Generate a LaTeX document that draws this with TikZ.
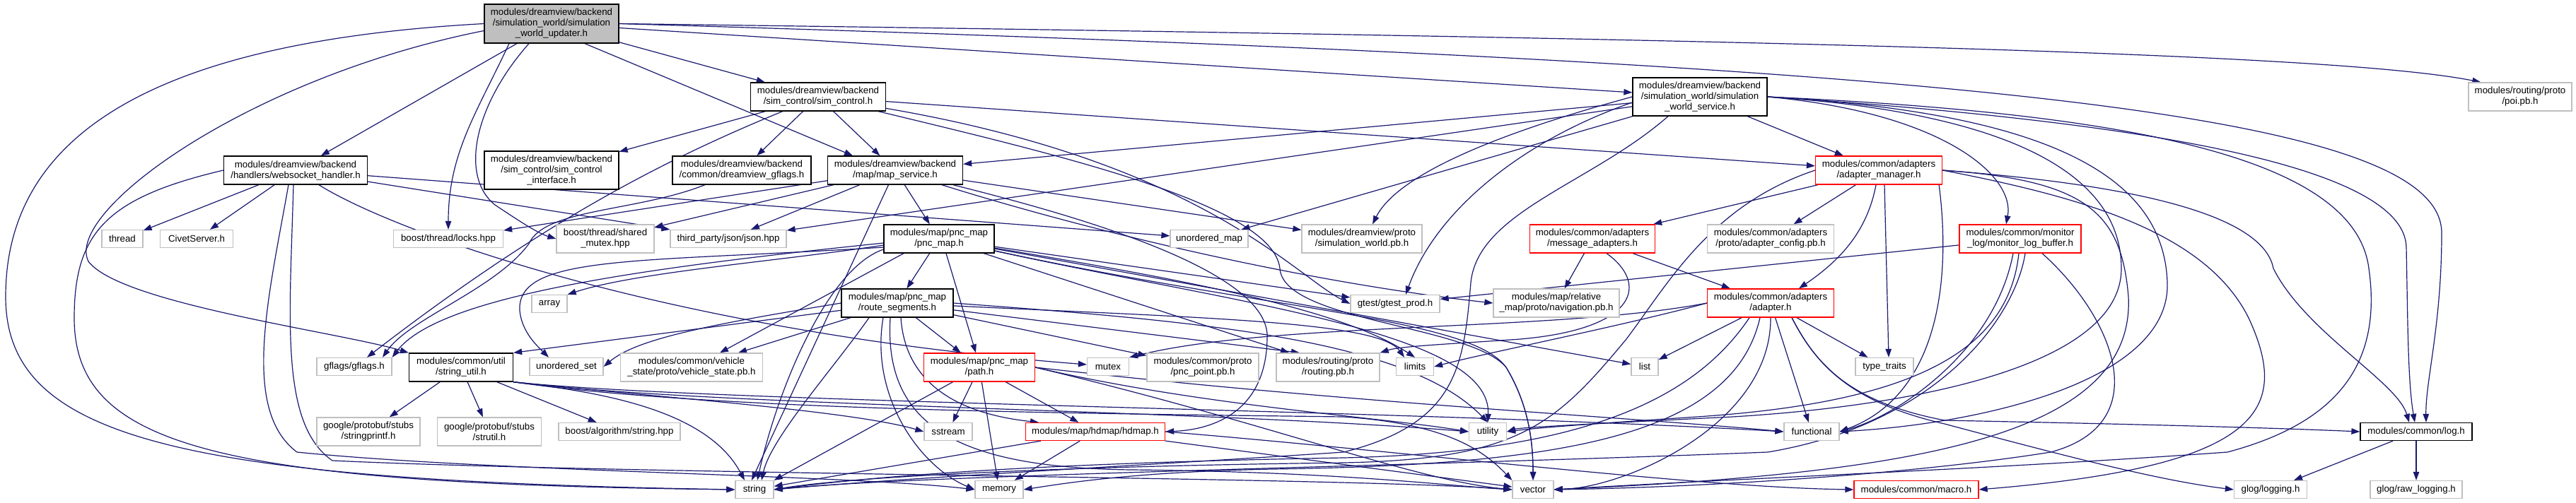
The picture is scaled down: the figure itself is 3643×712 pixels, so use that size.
\documentclass[tikz,border=0pt]{standalone}
\usepackage{fontspec}
\setmainfont{Liberation Sans}
\usetikzlibrary{arrows.meta}
\definecolor{edgec}{HTML}{191970}
\definecolor{gry}{HTML}{BFBFBF}
\definecolor{redb}{HTML}{FF0000}
\newcommand\nfont{\fontsize{13.3}{15}\selectfont}
\newcommand\mknode[7]{\node[#2,minimum width=#5pt,minimum height=#6pt] (#1) at (#3,-#4) {#7};}
\pgfdeclarelayer{bg}
\pgfsetlayers{bg,main}
\tikzset{
 nbase/.style={rectangle, line width=1.3pt, fill=white, inner sep=0pt, align=center, font=\nfont, text=black},
 nb/.style={nbase, draw=black},
 ng/.style={nbase, draw=gry},
 nr/.style={nbase, draw=redb},
 nroot/.style={nbase, draw=black, fill=gry},
 dep/.style={draw=edgec, line width=1.2pt, -{Triangle[length=12pt,width=8.5pt]}},
}
\begin{document}
\begin{tikzpicture}[x=1pt,y=1pt]
\useasboundingbox (0,0) rectangle (3643,-712);
\mknode{root}{nroot}{780}{33.5}{190}{55}{modules/dreamview/backend\\/simulation\_world/simulation\\\_world\_updater.h}
\mknode{ws}{nb}{418}{241}{203}{40}{modules/dreamview/backend\\/handlers/websocket\_handler.h}
\mknode{iface}{nb}{780}{241}{190}{54}{modules/dreamview/backend\\/sim\_control/sim\_control\\\_interface.h}
\mknode{thread}{ng}{173}{338}{58}{25}{thread}
\mknode{civet}{ng}{278}{338}{103}{25}{CivetServer.h}
\mknode{locks}{ng}{634}{338}{155}{25}{boost/thread/locks.hpp}
\mknode{smutex}{ng}{856}{338}{138}{40}{boost/thread/shared\\\_mutex.hpp}
\mknode{simctl}{nb}{1157}{137}{191}{40}{modules/dreamview/backend\\/sim\_control/sim\_control.h}
\mknode{dvgflags}{nb}{1049}{241}{196}{40}{modules/dreamview/backend\\/common/dreamview\_gflags.h}
\mknode{mapsvc}{nb}{1266}{241}{191}{40}{modules/dreamview/backend\\/map/map\_service.h}
\mknode{json}{ng}{1030}{338}{164}{25}{third\_party/json/json.hpp}
\mknode{pncmap}{nb}{1328}{338}{156}{40}{modules/map/pnc\_map\\/pnc\_map.h}
\mknode{umap}{ng}{1710}{338}{110}{25}{unordered\_map}
\mknode{swsvc}{nb}{2404}{137}{190}{54}{modules/dreamview/backend\\/simulation\_world/simulation\\\_world\_service.h}
\mknode{adman}{nr}{2657}{241}{179}{40}{modules/common/adapters\\/adapter\_manager.h}
\mknode{swpb}{ng}{1926}{338}{170}{40}{modules/dreamview/proto\\/simulation\_world.pb.h}
\mknode{msgad}{nr}{2252}{338}{177}{40}{modules/common/adapters\\/message\_adapters.h}
\mknode{adcfg}{ng}{2504}{338}{179}{40}{modules/common/adapters\\/proto/adapter\_config.pb.h}
\mknode{poi}{ng}{3564}{137}{146}{40}{modules/routing/proto\\/poi.pb.h}
\mknode{monitor}{nr}{2857}{338}{172}{40}{modules/common/monitor\\\_log/monitor\_log\_buffer.h}
\mknode{gflags}{ng}{501}{519}{106}{25}{gflags/gflags.h}
\mknode{sutil}{nb}{652}{520}{147}{40}{modules/common/util\\/string\_util.h}
\mknode{uset}{ng}{801}{519}{104}{25}{unordered\_set}
\mknode{array}{ng}{777}{430}{50}{25}{array}
\mknode{vehicle}{ng}{978}{520}{201}{40}{modules/common/vehicle\\\_state/proto/vehicle\_state.pb.h}
\mknode{sprintf}{ng}{521}{611}{146}{40}{google/protobuf/stubs\\/stringprintf.h}
\mknode{strutil}{ng}{692}{611}{147}{40}{google/protobuf/stubs\\/strutil.h}
\mknode{balg}{ng}{876}{611}{172}{25}{boost/algorithm/string.hpp}
\mknode{rseg}{nb}{1269}{429}{158}{40}{modules/map/pnc\_map\\/route\_segments.h}
\mknode{pnpath}{nr}{1385}{520}{157}{40}{modules/map/pnc\_map\\/path.h}
\mknode{mutex}{ng}{1567}{519}{59}{25}{mutex}
\mknode{pncpt}{ng}{1701}{520}{158}{40}{modules/common/proto\\/pnc\_point.pb.h}
\mknode{sstream}{ng}{1341}{611}{68}{25}{sstream}
\mknode{hdmap}{nr}{1549}{611}{197}{25}{modules/map/hdmap/hdmap.h}
\mknode{string}{ng}{1067}{693}{54}{25}{string}
\mknode{memory}{ng}{1413}{693}{68}{25}{memory}
\mknode{gtest}{ng}{1973}{430}{126}{25}{gtest/gtest\_prod.h}
\mknode{nav}{ng}{2201}{429}{178}{40}{modules/map/relative\\\_map/proto/navigation.pb.h}
\mknode{adapter}{nr}{2504}{429}{179}{40}{modules/common/adapters\\/adapter.h}
\mknode{routing}{ng}{1878}{520}{146}{40}{modules/routing/proto\\/routing.pb.h}
\mknode{limits}{ng}{2001}{519}{53}{25}{limits}
\mknode{list}{ng}{2326}{519}{38}{25}{list}
\mknode{ttraits}{ng}{2665}{519}{82}{25}{type\_traits}
\mknode{utility}{ng}{2104}{611}{53}{25}{utility}
\mknode{functional}{ng}{2562}{611}{78}{25}{functional}
\mknode{vector}{ng}{2168}{693}{58}{25}{vector}
\mknode{macro}{nr}{2710}{693}{176}{25}{modules/common/macro.h}
\mknode{log}{nb}{3417}{611}{158}{25}{modules/common/log.h}
\mknode{glogging}{ng}{3211}{693}{103}{25}{glog/logging.h}
\mknode{rawlog}{ng}{3417}{693}{130}{25}{glog/raw\_logging.h}
\begin{pgfonlayer}{bg}
\fill[white] (0,0) rectangle (3643,-712);
% root
\draw[dep] (root) -- (ws);
\draw[dep] (root) -- (simctl);
\draw[dep] ([xshift=47pt]root.south) -- ([xshift=-60pt]mapsvc.north);
\draw[dep] (root) -- (swsvc);
\draw[dep] (root.east) .. controls (2500,-55) and (3300,-75) .. ([xshift=18pt]poi.north west);
\draw[dep] (root.east) .. controls (2800,-90) and (3453,-160) .. (3453,-330) .. controls (3453,-460) and (3430,-540) .. ([xshift=14pt]log.north);
\draw[dep] ([xshift=-60pt]root.south) to[out=-115,in=90] (locks);
\draw[dep] ([xshift=-32pt]root.south) .. controls (670,-150) and (650,-250) .. (700,-290) .. controls (730,-310) and (760,-330) .. (smutex.west);
\draw[dep] (root.west) .. controls (200,-60) and (8,-200) .. (8,-420) .. controls (8,-620) and (250,-680) .. (string.west);
\draw[dep] ([yshift=-10pt]root.west) .. controls (350,-110) and (90,-300) .. (125,-370) .. controls (170,-430) and (480,-470) .. (sutil.north west);
% websocket
\draw[dep] (ws) -- (thread);
\draw[dep] (ws) -- (civet);
\draw[dep] (ws) -- (json);
\draw[dep] (ws) -- (umap);
\draw[dep] (ws) .. controls (560,-330) and (950,-470) .. ([yshift=3pt]mutex.west);
\draw[dep] (ws.west) .. controls (150,-280) and (105,-330) .. (105,-450) .. controls (105,-630) and (300,-685) .. (string.west);
\draw[dep] ([xshift=-10pt]ws.south) .. controls (380,-420) and (340,-580) .. (420,-640) .. controls (700,-668) and (1200,-672) .. (memory.west);
\draw[dep] ([xshift=-3pt]ws.south) .. controls (410,-450) and (395,-600) .. (470,-652) .. controls (900,-672) and (1900,-675) .. (vector.west);
% sim_control
\draw[dep] (simctl) -- (iface);
\draw[dep] (simctl) -- (dvgflags);
\draw[dep] (simctl) -- (mapsvc);
\draw[dep] (simctl) -- (adman);
\draw[dep] (simctl) .. controls (930,-230) and (760,-320) .. ([xshift=18pt]gflags.north);
\draw[dep] (simctl) .. controls (1700,-230) and (1830,-390) .. (gtest.west);
\draw[dep] (simctl) .. controls (1500,-220) and (1800,-290) .. (1810,-380) .. controls (1815,-455) and (2080,-460) .. (2130,-520) .. controls (2160,-570) and (2168,-620) .. (vector.north);
% dreamview gflags
\draw[dep] (dvgflags) .. controls (900,-300) and (770,-295) .. (748,-345) .. controls (700,-410) and (580,-450) .. ([xshift=40pt]gflags.north);
% map service
\draw[dep] (mapsvc) -- (smutex);
\draw[dep] (mapsvc) -- (locks);
\draw[dep] (mapsvc) -- (json);
\draw[dep] (mapsvc) -- (pncmap);
\draw[dep] (mapsvc) -- (swpb);
\draw[dep] (mapsvc) -- ([xshift=-4pt]string.north);
\draw[dep] (mapsvc) .. controls (1550,-330) and (1850,-400) .. (nav.west);
\draw[dep] (mapsvc) .. controls (1500,-300) and (1800,-380) .. (1792,-480) .. controls (1790,-580) and (1720,-608) .. (hdmap.east);
% simulation world service
\draw[dep] (swsvc) -- (mapsvc);
\draw[dep] (swsvc) -- (json);
\draw[dep] (swsvc) -- (umap);
\draw[dep] (swsvc) -- (adman);
\draw[dep] (swsvc.west) .. controls (2150,-180) and (1980,-240) .. ([xshift=15pt]swpb.north);
\draw[dep] ([yshift=-8pt]swsvc.west) .. controls (2150,-200) and (2030,-300) .. ([xshift=15pt]gtest.north);
\draw[dep] (swsvc.east) .. controls (2750,-160) and (2850,-250) .. ([xshift=-20pt]monitor.north);
\draw[dep] (swsvc.east) .. controls (3000,-170) and (3400,-230) .. (3403,-350) .. controls (3405,-450) and (3405,-540) .. ([xshift=-2pt]log.north);
\draw[dep] (swsvc.east) .. controls (3000,-160) and (3330,-220) .. (3350,-380) .. controls (3370,-520) and (3300,-600) .. (3150,-640) .. controls (2800,-665) and (2500,-675) .. (vector.east);
\draw[dep] (swsvc.east) .. controls (2900,-160) and (3060,-250) .. (3065,-400) .. controls (3070,-540) and (2800,-600) .. (functional.east);
\draw[dep] (swsvc.east) .. controls (2850,-160) and (3000,-250) .. (3000,-380) .. controls (3000,-520) and (2700,-575) .. (2450,-590) .. controls (2250,-600) and (2150,-605) .. (utility.east);
\draw[dep] ([xshift=-45pt]swsvc.south) .. controls (2250,-260) and (2090,-300) .. (2080,-400) .. controls (2070,-520) and (2060,-600) .. (1900,-640) .. controls (1600,-660) and (1300,-675) .. (string.east);
% pnc map
\draw[dep] (pncmap) -- (rseg);
\draw[dep] ([xshift=10pt]pncmap.south) -- ([xshift=-5pt]pnpath.north);
\draw[dep] ([yshift=-9pt]pncmap.west) .. controls (1100,-370) and (900,-385) .. (array.north east);
\draw[dep] ([yshift=-6pt]pncmap.west) .. controls (900,-380) and (620,-420) .. (gflags.north east);
\draw[dep] ([yshift=-12pt]pncmap.west) .. controls (900,-372) and (730,-360) .. (735,-440) .. controls (738,-470) and (760,-490) .. ([xshift=-25pt]uset.north);
\draw[dep] ([xshift=-50pt]pncmap.south) -- ([xshift=40pt]vehicle.north);
\draw[dep] (pncmap) -- ([xshift=-55pt]routing.north);
\draw[dep] (pncmap) -- (list);
\draw[dep] (pncmap) -- (gtest);
\draw[dep] (pncmap) .. controls (1700,-400) and (1900,-440) .. (limits.north);
\draw[dep] ([yshift=-15pt]pncmap.west) .. controls (1170,-380) and (1100,-550) .. ([xshift=4pt]string.north);
\draw[dep] (pncmap) .. controls (1800,-440) and (2080,-450) .. (2130,-520) .. controls (2160,-570) and (2168,-620) .. (vector.north);
\draw[dep] (pncmap) .. controls (1750,-430) and (2110,-470) .. (utility.north);
% route segments
\draw[dep] (rseg) -- (vehicle);
\draw[dep] (rseg) -- (pnpath);
\draw[dep] (rseg) -- (pncpt);
\draw[dep] (rseg) -- ([xshift=-40pt]routing.north);
\draw[dep] (rseg) .. controls (1700,-450) and (1950,-455) .. ([xshift=-15pt]limits.north);
\draw[dep] (rseg) -- (sutil.north east);
\draw[dep] (rseg.west) .. controls (1000,-460) and (900,-480) .. (uset.east);
\draw[dep] ([xshift=-40pt]rseg.south) .. controls (1180,-520) and (1090,-620) .. ([xshift=10pt]string.north);
\draw[dep] ([xshift=-20pt]rseg.south) .. controls (1230,-560) and (1300,-660) .. (memory.west);
\draw[dep] ([xshift=-10pt]rseg.south) .. controls (1250,-600) and (1350,-662) .. (1600,-665) .. controls (1900,-668) and (2050,-688) .. (vector.west);
\draw[dep] (rseg.east) .. controls (1700,-455) and (1990,-480) .. (utility.north);
\draw[dep] ([xshift=5pt]rseg.south) .. controls (1280,-540) and (1350,-585) .. ([xshift=-80pt]hdmap.north);
% path
\draw[dep] (pnpath) -- (sstream);
\draw[dep] (pnpath) -- (string.north east);
\draw[dep] (pnpath) -- (memory);
\draw[dep] (pnpath) -- (hdmap);
\draw[dep] (pnpath.east) .. controls (1700,-575) and (1950,-590) .. (utility.west);
\draw[dep] (pnpath.east) .. controls (1800,-600) and (2000,-680) .. (vector.west);
\draw[dep] (pnpath.east) .. controls (1900,-570) and (2300,-590) .. (functional.west);
% hdmap
\draw[dep] (hdmap) -- (string);
\draw[dep] (hdmap) -- (memory);
\draw[dep] (hdmap) -- (vector);
\draw[dep] (hdmap.east) .. controls (2000,-640) and (2400,-690) .. (macro.west);
% string util
\draw[dep] (sutil) -- (sprintf);
\draw[dep] (sutil) -- (strutil);
\draw[dep] (sutil) -- (balg);
\draw[dep] (sutil.south east) .. controls (900,-560) and (1200,-580) .. (sstream.west);
\draw[dep] (sutil.south east) .. controls (850,-555) and (1000,-580) .. ([xshift=-14pt]string.north);
\draw[dep] (sutil.south east) .. controls (1000,-580) and (1500,-585) .. (1900,-590) .. controls (2050,-600) and (2100,-640) .. (vector.north west);
\draw[dep] (sutil.south east) .. controls (1000,-575) and (1700,-580) .. (utility.west);
\draw[dep] (sutil.south east) .. controls (1000,-570) and (2000,-580) .. (functional.west);
% adapter manager
\draw[dep] (adman) -- (msgad);
\draw[dep] (adman) -- (adcfg);
\draw[dep] (adman) .. controls (2640,-330) and (2600,-370) .. ([xshift=40pt]adapter.north);
\draw[dep] ([xshift=8pt]adman.south) -- ([xshift=6pt]ttraits.north);
\draw[dep] (adman.east) .. controls (3000,-260) and (3200,-300) .. (3215,-380) .. controls (3260,-470) and (3390,-540) .. ([xshift=-10pt]log.north);
\draw[dep] (adman.east) .. controls (2950,-280) and (3120,-330) .. (3180,-450) .. controls (3240,-580) and (3200,-660) .. (macro.east);
\draw[dep] (adman.west) .. controls (2420,-290) and (2360,-400) .. (2300,-480) .. controls (2200,-600) and (2150,-650) .. (1900,-655) .. controls (1500,-660) and (1200,-675) .. (string.east);
\draw[dep] (adman.east) .. controls (2950,-255) and (3000,-300) .. (3010,-420) .. controls (3020,-620) and (2700,-670) .. (vector.east);
\draw[dep] ([xshift=-5pt]adman.south east) .. controls (2760,-400) and (2740,-560) .. (functional.east);
% message adapters
\draw[dep] (msgad) -- (nav);
\draw[dep] (msgad) -- (adapter);
\draw[dep] ([xshift=20pt]msgad.south) .. controls (2330,-400) and (2320,-465) .. (2150,-480) .. controls (2050,-487) and (1980,-490) .. (routing.north east);
% adapter
\draw[dep] (adapter) -- (list);
\draw[dep] (adapter) -- (ttraits);
\draw[dep] (adapter) -- (functional);
\draw[dep] (adapter.west) .. controls (2300,-460) and (2100,-500) .. (limits.east);
\draw[dep] (adapter.west) .. controls (2200,-470) and (1800,-455) .. (mutex.north east);
\draw[dep] ([xshift=-30pt]adapter.south) .. controls (2400,-560) and (2250,-640) .. (1900,-648) .. controls (1500,-655) and (1250,-672) .. (string.east);
\draw[dep] (adapter.south) .. controls (2505,-600) and (2300,-690) .. (vector.east);
\draw[dep] ([xshift=-15pt]adapter.south) .. controls (2450,-620) and (2200,-658) .. (1800,-664) .. controls (1600,-668) and (1500,-685) .. (memory.east);
\draw[dep] ([xshift=30pt]adapter.south) .. controls (2570,-520) and (2620,-570) .. (2750,-600) .. controls (2900,-640) and (3050,-680) .. (glogging.west);
\draw[dep] ([xshift=30pt]adapter.south) .. controls (2570,-520) and (2620,-570) .. (2750,-595) .. controls (3000,-600) and (3200,-605) .. (log.west);
% monitor log buffer
\draw[dep] (monitor) -- (gtest);
\draw[dep] ([xshift=-10pt]monitor.south) .. controls (2820,-500) and (2680,-590) .. (functional.east);
\draw[dep] ([xshift=-2pt]monitor.south) .. controls (2840,-500) and (2700,-570) .. (2400,-590) .. controls (2250,-600) and (2180,-605) .. (utility.east);
\draw[dep] ([xshift=7pt]monitor.south) .. controls (2850,-450) and (2740,-600) .. (2500,-640) .. controls (2000,-660) and (1300,-672) .. (string.east);
\draw[dep] ([xshift=31pt]monitor.south) .. controls (2990,-450) and (3050,-600) .. (2900,-640) .. controls (2700,-672) and (2400,-690) .. (vector.east);
% log
\draw[dep] (log) -- (glogging);
\draw[dep] (log) -- (rawlog);
\end{pgfonlayer}
\end{tikzpicture}
\end{document}
